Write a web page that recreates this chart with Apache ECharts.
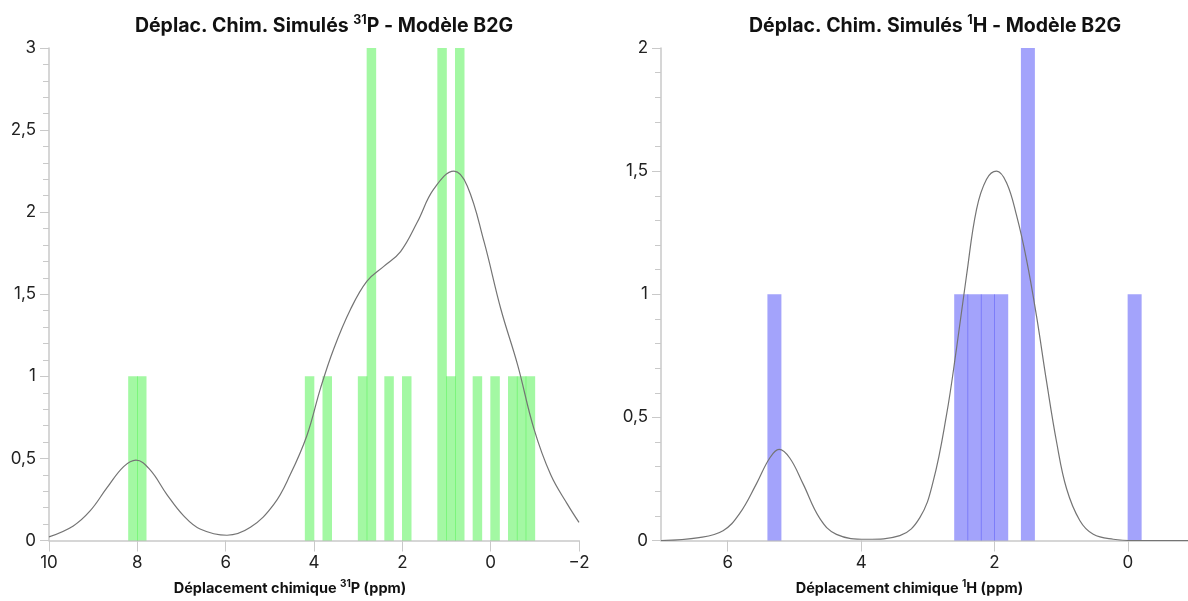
<!DOCTYPE html>
<html>
<head>
<meta charset="utf-8">
<script src="https://cdn.jsdelivr.net/npm/echarts@6/dist/echarts.min.js"></script>
<style>
html,body{margin:0;padding:0;background:#fff;}
#chart{width:1188px;height:601px;}
</style>
</head>
<body>
<div id="chart"></div>
<script>
// ---- Data ----
// 31P simulated shifts (ppm) and bar heights
const pShifts = [8.1, 7.9, 4.1, 3.7, 2.9, 2.7, 2.3, 1.9, 1.1, 0.9, 0.7, 0.3, -0.1, -0.5, -0.7, -0.9];
const pCounts = [1,   1,   1,   1,   1,   3,   1,   1,   3,   1,   3,   1,   1,    1,    1,    1];
// 31P density curve
const pCurveX = [10.0, 9.45, 9.07, 8.69, 8.31, 8.03, 7.71, 7.33, 6.95, 6.58, 5.97, 5.44, 4.91, 4.54, 4.16, 3.85, 3.55, 3.17, 2.80, 2.42, 2.04, 1.66, 1.29, 0.83, 0.53, 0.15, -0.23, -0.61, -0.98, -1.36, -1.74, -2.0];
const pCurveY = [0.022, 0.089, 0.18, 0.32, 0.45, 0.49, 0.43, 0.28, 0.15, 0.07, 0.032, 0.08, 0.22, 0.40, 0.64, 0.93, 1.17, 1.41, 1.58, 1.67, 1.76, 1.94, 2.14, 2.25, 2.16, 1.82, 1.41, 1.07, 0.68, 0.40, 0.22, 0.11];
// 1H simulated shifts (ppm) and bar heights
const hShifts = [5.3, 2.5, 2.3, 2.1, 1.9, 1.5, -0.1];
const hCounts = [1,   1,   1,   1,   1,   2,   1];
// 1H density curve
const hCurveX = [7.0, 6.43, 6.07, 5.82, 5.57, 5.37, 5.23, 5.07, 4.87, 4.62, 4.37, 3.92, 3.42, 3.12, 2.92, 2.72, 2.57, 2.42, 2.27, 2.12, 1.97, 1.82, 1.67, 1.52, 1.37, 1.22, 1.07, 0.92, 0.72, 0.52, 0.22, -0.1, -0.9];
const hCurveY = [0, 0.012, 0.04, 0.11, 0.23, 0.335, 0.37, 0.335, 0.23, 0.09, 0.025, 0.005, 0.02, 0.093, 0.24, 0.51, 0.78, 1.076, 1.345, 1.467, 1.50, 1.453, 1.32, 1.14, 0.91, 0.645, 0.40, 0.21, 0.08, 0.025, 0.005, 0, 0];
// Axis ticks
const hTickValues = [0, 2, 4, 6];

// ---- Chart ----
const FONT = 'Inter, "Liberation Sans", sans-serif';
const AX = '#c9c9c9';
const TXT = '#222';

const zip = (a, b) => a.map((v, i) => [v, b[i]]);
const fmtX = v => (v < 0 ? '\u2212' + Math.abs(v) : String(v));
const fmtY = v => String(v).replace('.', ',');

const richT = {
  b: { fontSize: 19.5, fontWeight: 'bold', color: '#111', fontFamily: FONT, lineHeight: 24 },
  s: { fontSize: 12.5, fontWeight: 'bold', color: '#111', fontFamily: FONT, verticalAlign: 'top', lineHeight: 15 }
};
const richN = {
  b: { fontSize: 14.5, fontWeight: 'bold', color: '#111', fontFamily: FONT, lineHeight: 20 },
  s: { fontSize: 10, fontWeight: 'bold', color: '#111', fontFamily: FONT, verticalAlign: 'top', lineHeight: 12 }
};

function xAxisBase() {
  return {
    type: 'value',
    inverse: true,
    nameLocation: 'middle',
    nameGap: 38,
    axisLine: { show: true, onZero: false, lineStyle: { color: AX, width: 1.5 } },
    axisTick: { show: true, length: 11, lineStyle: { color: AX, width: 1 } },
    axisLabel: { color: TXT, fontSize: 17, fontFamily: FONT, margin: 14, formatter: fmtX },
    splitLine: { show: false }
  };
}
function yAxisBase(max) {
  return {
    type: 'value',
    min: 0, max: max, interval: 0.5,
    axisLine: { show: true, onZero: false, lineStyle: { color: AX, width: 1.5 } },
    axisTick: { show: true, length: 9, lineStyle: { color: AX, width: 1 } },
    minorTick: { show: true, splitNumber: 5, length: 6, lineStyle: { color: AX, width: 1 } },
    axisLabel: { color: TXT, fontSize: 17, fontFamily: FONT, margin: 13, formatter: fmtY },
    splitLine: { show: false }
  };
}

const xP = Object.assign(xAxisBase(), {
  gridIndex: 0, min: -2, max: 10, interval: 2,
  name: '{b|Déplacement chimique }{s|31}{b|P (ppm)}',
  nameTextStyle: { rich: richN, padding: [0, 48, 0, 0] }
});
const xH = Object.assign(xAxisBase(), {
  gridIndex: 1, min: -0.9, max: 7,
  name: '{b|Déplacement chimique }{s|1}{b|H (ppm)}',
  nameTextStyle: { rich: richN, padding: [0, 30, 0, 0] }
});
xH.axisTick = Object.assign({}, xH.axisTick, { customValues: hTickValues });
xH.axisLabel = Object.assign({}, xH.axisLabel, { customValues: hTickValues });

const option = {
  backgroundColor: '#fff',
  animation: false,
  title: [
    { text: '{b|Déplac. Chim. Simulés }{s|31}{b|P - Modèle B2G}', left: 319, top: 9, textAlign: 'center',
      textStyle: { rich: richT } },
    { text: '{b|Déplac. Chim. Simulés }{s|1}{b|H - Modèle B2G}', left: 930, top: 9, textAlign: 'center',
      textStyle: { rich: richT } }
  ],
  grid: [
    { left: 49, top: 48, width: 530, height: 495 },
    { left: 661, top: 48, right: 0, height: 495 }
  ],
  xAxis: [xP, xH],
  yAxis: [Object.assign(yAxisBase(3), { gridIndex: 0 }), Object.assign(yAxisBase(2), { gridIndex: 1 })],
  series: [
    { type: 'bar', xAxisIndex: 0, yAxisIndex: 0, data: zip(pShifts, pCounts), barWidth: 9.5,
      itemStyle: { color: 'rgba(0,235,0,0.36)' }, z: 2 },
    { type: 'line', xAxisIndex: 0, yAxisIndex: 0, data: zip(pCurveX, pCurveY), smooth: 0.4,
      showSymbol: false, lineStyle: { color: '#747474', width: 1.2 }, z: 3 },
    { type: 'bar', xAxisIndex: 1, yAxisIndex: 1, data: zip(hShifts, hCounts), barWidth: 14,
      itemStyle: { color: 'rgba(0,0,245,0.36)' }, z: 2 },
    { type: 'line', xAxisIndex: 1, yAxisIndex: 1, data: zip(hCurveX, hCurveY), smooth: 0.4,
      showSymbol: false, lineStyle: { color: '#747474', width: 1.2 }, z: 3 }
  ]
};

const chart = echarts.init(document.getElementById('chart'), null, { renderer: 'canvas' });
chart.setOption(option);
</script>
</body>
</html>
